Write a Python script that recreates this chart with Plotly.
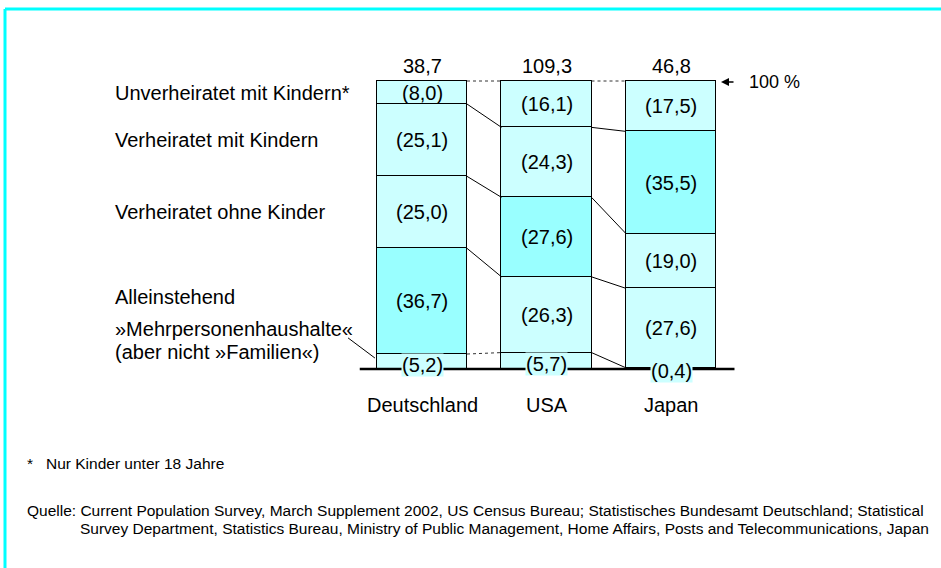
import plotly.graph_objects as go

# ---------------- data ----------------
countries = ["Deutschland", "USA", "Japan"]
households_mio = [38.7, 109.3, 46.8]          # Haushalte in Mio.
# shares in %, bottom -> top
series_names = [
    "»Mehrpersonenhaushalte«",
    "Alleinstehend",
    "Verheiratet ohne Kinder",
    "Verheiratet mit Kindern",
    "Unverheiratet mit Kindern*",
]
mehrpersonen = [5.2, 5.7, 0.4]
alleinstehend = [36.7, 26.3, 27.6]
verh_ohne = [25.0, 27.6, 19.0]
verh_mit = [25.1, 24.3, 35.5]
unverh_mit = [8.0, 16.1, 17.5]
series_values = [mehrpersonen, alleinstehend, verh_ohne, verh_mit, unverh_mit]

footnote = "*   Nur Kinder unter 18 Jahre"
source_1 = ("Quelle: Current Population Survey, March Supplement 2002, US Census Bureau; "
            "Statistisches Bundesamt Deutschland; Statistical")
source_2 = ("Survey Department, Statistics Bureau, Ministry of Public Management, "
            "Home Affairs, Posts and Telecommunications, Japan")

# ---------------- styling / layout constants ----------------
W, H = 941, 568
FONT = "Arial, Liberation Sans, sans-serif"
LIGHT = "#ccffff"
DARK = "#99ffff"
FRAME = "#00ffff"
BAR_W = 0.723
X_PX0, X_PX_PER = 422.0, 124.5      # x=0 centre pixel, pixels per category
Y_PX0, Y_PX_PER = 369.0, 2.88       # y=0 pixel row, pixels per percent

x_range = [-X_PX0 / X_PX_PER, (W - X_PX0) / X_PX_PER]
y_range = [-(H - Y_PX0) / Y_PX_PER, Y_PX0 / Y_PX_PER]

xs = list(range(len(countries)))

# which segment is largest per country -> highlighted
max_idx = []
for j in xs:
    vals = [s[j] for s in series_values]
    max_idx.append(vals.index(max(vals)))

fig = go.Figure()
for k, (name, vals) in enumerate(zip(series_names, series_values)):
    cols = [DARK if max_idx[j] == k else LIGHT for j in xs]
    fig.add_trace(go.Bar(
        x=xs, y=vals, name=name, width=BAR_W,
        marker=dict(color=cols, line=dict(color="black", width=1)),
        hoverinfo="skip", showlegend=False,
    ))

annotations = []
shapes = []

def fmt(v):
    return f"{v:.1f}".replace(".", ",")

# segment labels
cums = [[0.0] * len(xs)]
for vals in series_values:
    cums.append([cums[-1][j] + vals[j] for j in xs])

for k, vals in enumerate(series_values):
    for j in xs:
        mid = cums[k][j] + vals[j] / 2
        a = dict(x=j, y=mid, xref="x", yref="y", text=f"({fmt(vals[j])})",
                 showarrow=False, font=dict(family=FONT, size=20, color="black"))
        if k == 0:
            a.update(bgcolor=LIGHT, yshift=-3, borderpad=0)
        annotations.append(a)

# connector lines between bars
for k in range(1, len(cums)):
    for j in xs[:-1]:
        dotted = (k == len(cums) - 1) or (k == 1 and j == 0)
        shapes.append(dict(
            type="line", xref="x", yref="y",
            x0=j + BAR_W / 2, y0=cums[k][j], x1=j + 1 - BAR_W / 2, y1=cums[k][j + 1],
            line=dict(color="#333333" if dotted else "black", width=1,
                      dash="dot" if dotted else "solid"),
            layer="above",
        ))

# baseline
shapes.append(dict(type="line", xref="x", yref="y", x0=-0.5, x1=2.51, y0=0, y1=0,
                   line=dict(color="black", width=2.5), layer="above"))
# bracket for Mehrpersonenhaushalte label
shapes.append(dict(type="line", xref="x", yref="y", x0=-0.594, y0=10.8, x1=-0.378, y1=3.8,
                   line=dict(color="black", width=1)))
# cyan frame
shapes.append(dict(type="line", xref="paper", yref="paper", x0=5 / W, x1=1, y0=1 - 9 / H, y1=1 - 9 / H,
                   line=dict(color=FRAME, width=3)))
shapes.append(dict(type="line", xref="paper", yref="paper", x0=5 / W, x1=5 / W, y0=0, y1=1 - 9 / H,
                   line=dict(color=FRAME, width=3)))

# totals above bars and country labels below
for j in xs:
    annotations.append(dict(x=j, y=100, xref="x", yref="y", yshift=15, yanchor="middle",
                            text=fmt(households_mio[j]), showarrow=False,
                            font=dict(family=FONT, size=20, color="black")))
    annotations.append(dict(x=j, y=0, xref="x", yref="y", yshift=-36, yanchor="middle",
                            text=countries[j], showarrow=False,
                            font=dict(family=FONT, size=20, color="black")))

# 100 % marker (arrow + text)
annotations.append(dict(x=2 + BAR_W / 2, y=100, xref="x", yref="y", xshift=5, yshift=-1,
                        text="", showarrow=True, ax=14, ay=0, axref="pixel", ayref="pixel",
                        arrowhead=2, arrowsize=1, arrowwidth=1.6, arrowcolor="black", standoff=0))
annotations.append(dict(x=2 + BAR_W / 2, y=100, xref="x", yref="y", xanchor="left", xshift=31,
                        yshift=-1, yanchor="middle", text="100 %", showarrow=False,
                        font=dict(family=FONT, size=18, color="black")))

# category labels on the left (aligned with the German bar segments)
lx = 113 / W
for k in [4, 3, 2, 1]:
    mid = cums[k][0] + series_values[k][0] / 2
    annotations.append(dict(x=lx, y=mid, xref="paper", yref="y", xanchor="left", yanchor="middle",
                            yshift=4 if k == 1 else 0,
                            text=series_names[k], showarrow=False,
                            font=dict(family=FONT, size=20, color="black")))
annotations.append(dict(x=lx, y=(Y_PX0 - 329) / Y_PX_PER, xref="paper", yref="y", xanchor="left",
                        yanchor="middle", text=series_names[0], showarrow=False,
                        font=dict(family=FONT, size=20, color="black")))
annotations.append(dict(x=lx, y=(Y_PX0 - 352) / Y_PX_PER, xref="paper", yref="y", xanchor="left",
                        yanchor="middle", text="(aber nicht »Familien«)", showarrow=False,
                        font=dict(family=FONT, size=20, color="black")))

# footnotes
annotations.append(dict(x=25 / W, y=1 - 463 / H, xref="paper", yref="paper", xanchor="left",
                        yanchor="middle", text=footnote, showarrow=False,
                        font=dict(family=FONT, size=15.5, color="black")))
annotations.append(dict(x=25 / W, y=1 - 510 / H, xref="paper", yref="paper", xanchor="left",
                        yanchor="middle", text=source_1, showarrow=False,
                        font=dict(family=FONT, size=15.5, color="black")))
annotations.append(dict(x=78 / W, y=1 - 528 / H, xref="paper", yref="paper", xanchor="left",
                        yanchor="middle", text=source_2, showarrow=False,
                        font=dict(family=FONT, size=15.5, color="black")))

fig.update_layout(
    width=W, height=H, autosize=False,
    margin=dict(l=0, r=0, t=0, b=0),
    paper_bgcolor="white", plot_bgcolor="white",
    barmode="stack", bargap=0,
    xaxis=dict(range=x_range, visible=False, fixedrange=True),
    yaxis=dict(range=y_range, visible=False, fixedrange=True),
    annotations=annotations, shapes=shapes,
    separators=",.",
)

fig.write_html("out.html", config={"displayModeBar": False},
               post_script="document.body.style.margin='0';document.body.style.overflow='hidden';")
